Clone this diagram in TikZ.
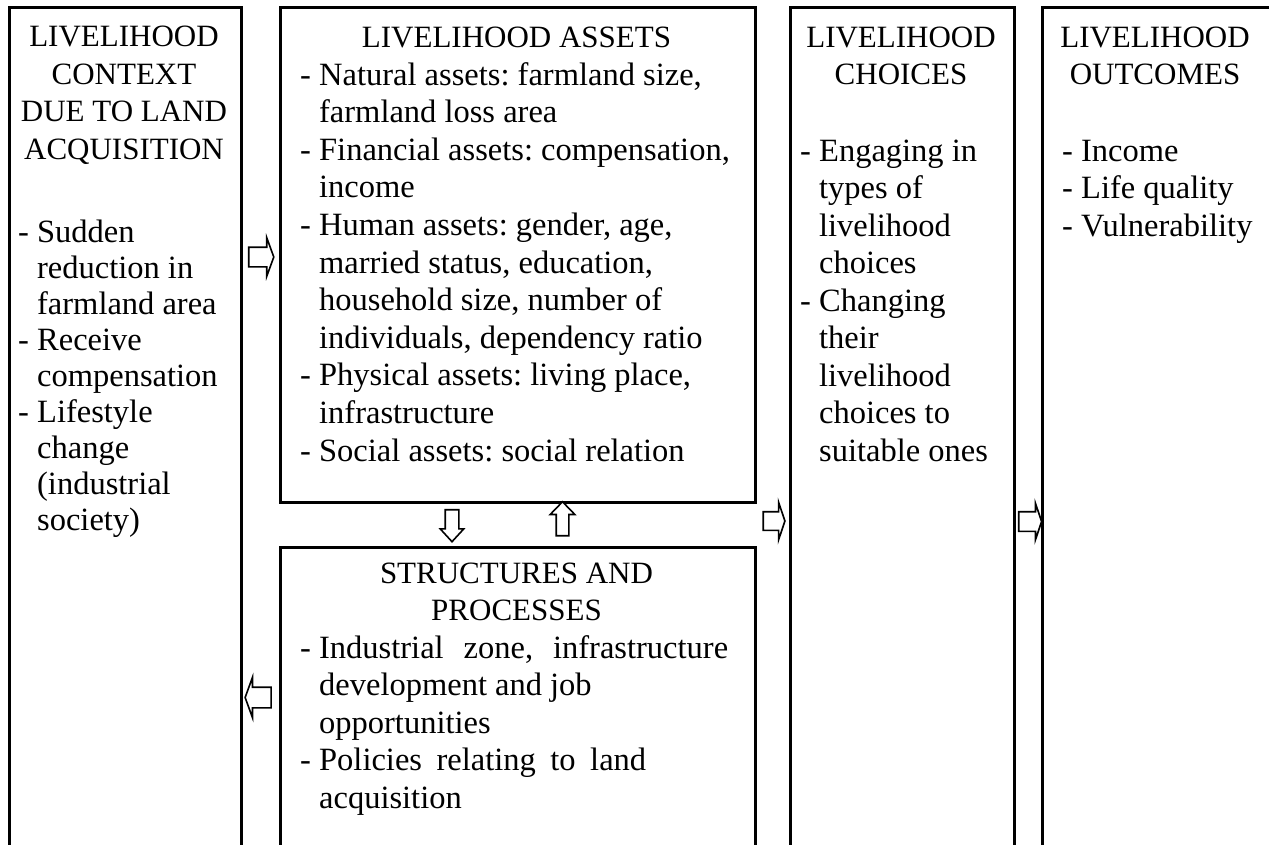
\documentclass[tikz,border=0pt]{standalone}
\usepackage{fontspec}
\setmainfont{Liberation Serif}
\usetikzlibrary{shapes.arrows}
\begin{document}
\frenchspacing
\begin{tikzpicture}[x=1pt,y=-1pt,
  panel/.style={draw, line width=2.5pt, inner sep=0pt, anchor=north west},
  head/.style={align=center, anchor=base, inner sep=0pt, font=\fontsize{31}{37.4}\selectfont},
  items/.style={align=left, anchor=base west, inner sep=0pt, font=\fontsize{32.5}{37.6}\selectfont},
  blockarrow/.style={single arrow, draw, line width=1.6pt, fill=white}]
\useasboundingbox (0,0) rectangle (1269,844);
\newcommand{\ind}{\phantom{- }}

% panels (they run on past the lower edge)
\node[panel, minimum width=232pt, minimum height=900pt] (context) at (8,6) {};
\node[panel, minimum width=475pt, minimum height=495pt] (assets) at (279,6) {};
\node[panel, minimum width=475pt, minimum height=400pt] (structures) at (279,546) {};
\node[panel, minimum width=224pt, minimum height=900pt] (choices) at (789,6) {};
\node[panel, minimum width=240pt, minimum height=900pt] (outcomes) at (1041,6) {};

% text blocks, placed by the baseline of their last line
% livelihood context
\node[head] (contextT) at (124,159) {LIVELIHOOD\\CONTEXT\\DUE TO LAND\\ACQUISITION};
\node[items, font=\fontsize{32.5}{36}\selectfont] (contextL) at (18,530)
  {- Sudden\\\ind reduction in\\\ind farmland area\\- Receive\\\ind compensation\\- Lifestyle\\\ind change\\\ind (industrial\\\ind society)};

% livelihood assets
\node[head] (assetsT) at (516.5,47) {LIVELIHOOD ASSETS};
\node[items] (assetsL) at (300,461)
  {- Natural assets: farmland size,\\\ind farmland loss area\\- Financial assets: compensation,\\\ind income\\- Human assets: gender, age,\\\ind married status, education,\\\ind household size, number of\\\ind individuals, dependency ratio\\- Physical assets: living place,\\\ind infrastructure\\- Social assets: social relation};

% structures and processes (first lines of each item are justified)
\node[head, font=\fontsize{31}{37.5}\selectfont] (structT) at (516.5,620.5) {STRUCTURES AND\\PROCESSES};
\node[items, font=\fontsize{32.5}{37.5}\selectfont] (structL) at (300,808)
  {- \makebox[409pt][s]{Industrial zone, infrastructure}\\\ind development and job\\\ind opportunities\\- \makebox[327pt][s]{Policies relating to land}\\\ind acquisition};

% livelihood choices
\node[head, font=\fontsize{31}{37.5}\selectfont] (choicesT) at (901,84.5) {LIVELIHOOD\\CHOICES};
\node[items, font=\fontsize{32.5}{37.5}\selectfont] (choicesL) at (800,461)
  {- Engaging in\\\ind types of\\\ind livelihood\\\ind choices\\- Changing\\\ind their\\\ind livelihood\\\ind choices to\\\ind suitable ones};

% livelihood outcomes
\node[head, font=\fontsize{31}{37.5}\selectfont] (outcomesT) at (1155,84.5) {LIVELIHOOD\\OUTCOMES};
\node[items, font=\fontsize{32.5}{37.5}\selectfont] (outcomesL) at (1062,236)
  {- Income\\- Life quality\\- Vulnerability};

% hollow block arrows: inner sep = half the shaft width
\node[blockarrow, inner sep=9pt, minimum height=25pt, single arrow head extend=9.5pt, single arrow tip angle=140] (toAssets) at (259.5,257) {};
\node[blockarrow, shape border rotate=180, inner sep=9.5pt, minimum height=26pt, single arrow head extend=10pt, single arrow tip angle=140] (toContext) at (260,697.5) {};
\node[blockarrow, shape border rotate=270, inner sep=6pt, minimum height=32pt, single arrow head extend=5pt, single arrow tip angle=85] (toStruct) at (452,522) {};
\node[blockarrow, shape border rotate=90, inner sep=5.5pt, minimum height=34pt, single arrow head extend=6pt, single arrow tip angle=88] (toAssetsUp) at (562.5,522) {};
\node[blockarrow, inner sep=8.5pt, minimum height=21pt, single arrow head extend=9.5pt, single arrow tip angle=143] (toChoices) at (772.5,521) {};
\node[blockarrow, inner sep=9pt, minimum height=19pt, single arrow head extend=8.5pt, single arrow tip angle=143] (toOutcomes) at (1028.5,521.5) {};
\end{tikzpicture}
\end{document}
